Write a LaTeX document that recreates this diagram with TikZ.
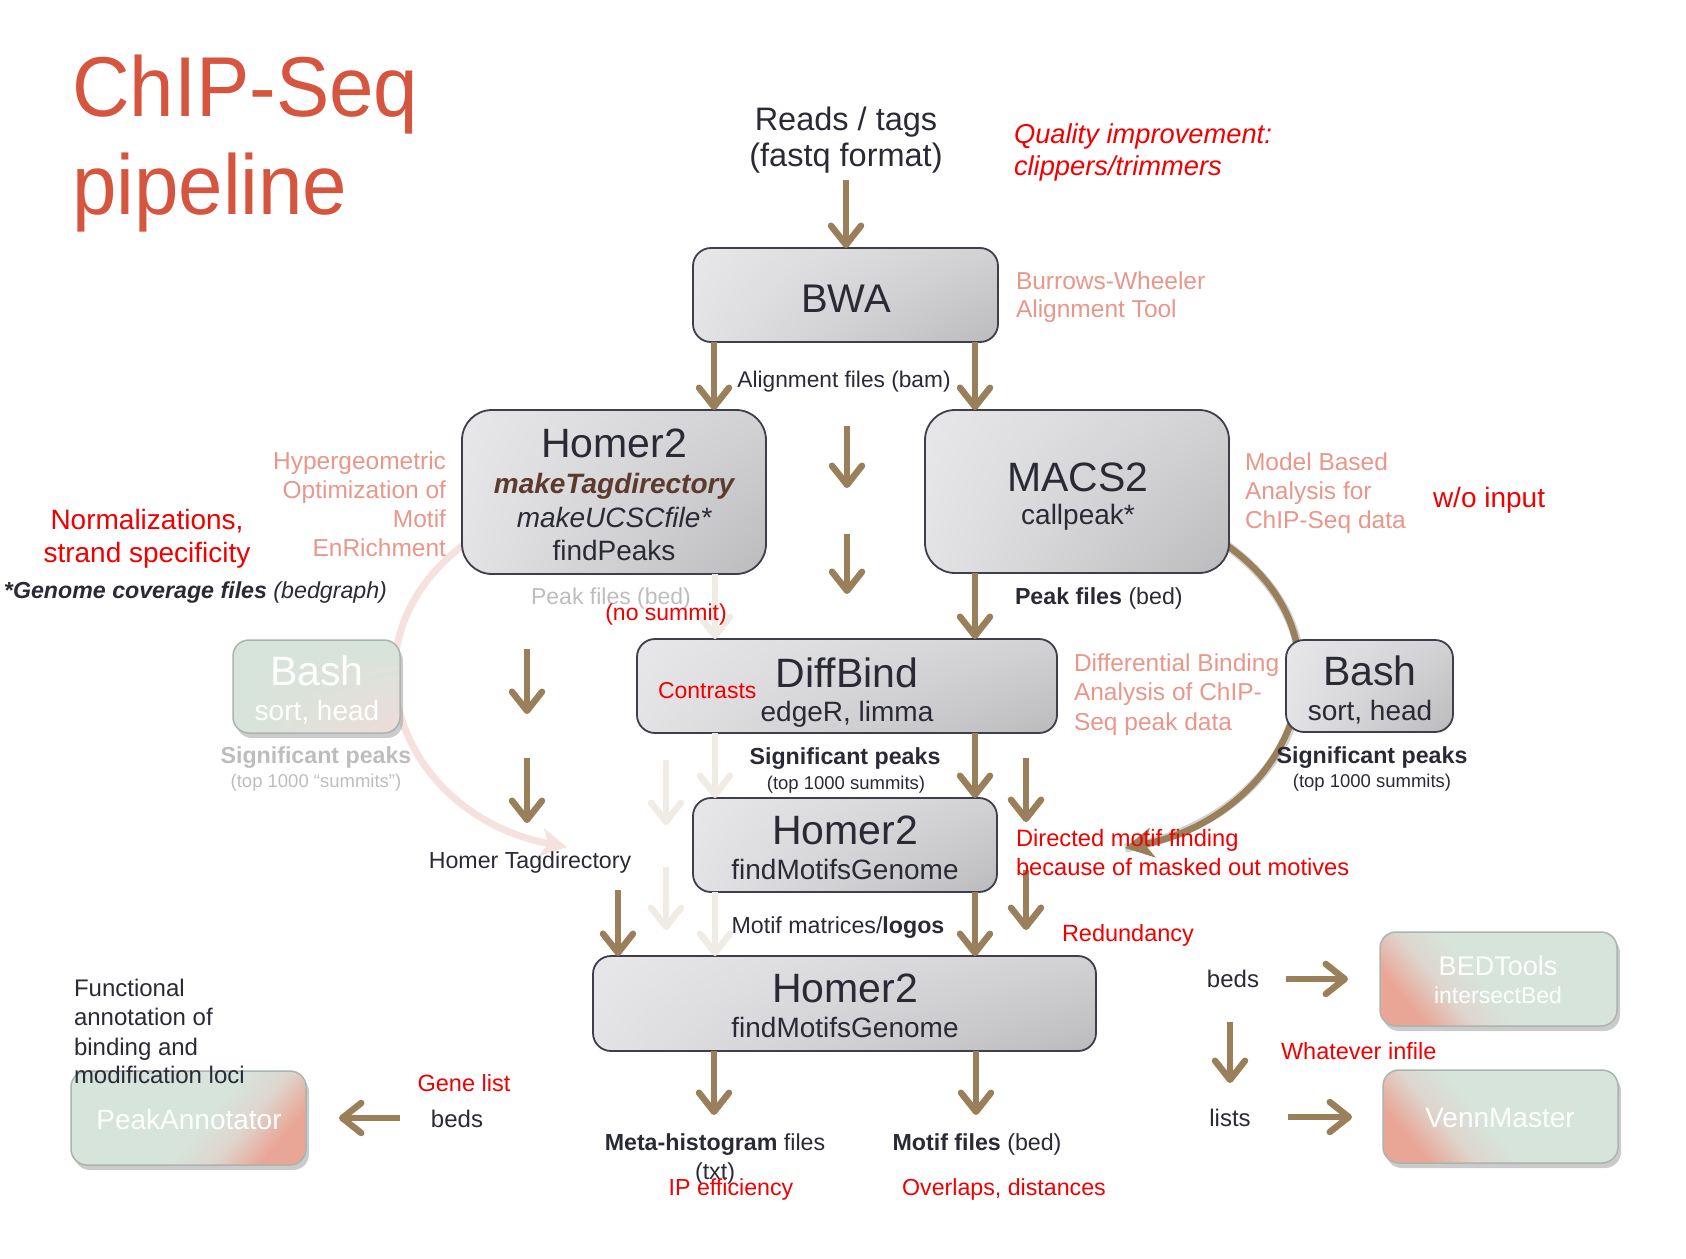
\documentclass[tikz,border=0pt]{standalone}
\usepackage{fontspec}
\setmainfont{Liberation Sans}
\newfontfamily\titlefont[FakeStretch=0.94]{Liberation Sans}
\usetikzlibrary{arrows.meta,shadows,shadings}
\definecolor{ttl}{HTML}{D5553F}
\definecolor{salm}{HTML}{E8978A}
\definecolor{txt}{HTML}{2A2A36}
\definecolor{arrc}{HTML}{9A7F5B}
\definecolor{fadearr}{HTML}{F0EBE5}
\definecolor{fadecurve}{HTML}{F5E1DE}
\definecolor{brn}{HTML}{5C3A2E}
\definecolor{lgray}{HTML}{BDBDBD}
\definecolor{boxline}{HTML}{3E3E4C}
\definecolor{gA}{HTML}{E7E7E9}
\definecolor{gAA}{HTML}{E3E3E5}
\definecolor{gB}{HTML}{D2D2D4}
\definecolor{gC}{HTML}{BBBBBD}
\definecolor{grn}{HTML}{D6E4DB}
\definecolor{pnk}{HTML}{E9A595}
\definecolor{mixc}{HTML}{DED6CE}
\definecolor{lpnk}{HTML}{EEDCD8}
\definecolor{fbord}{HTML}{A9B5AE}
\definecolor{rd}{HTML}{F00000}
\pgfdeclarehorizontalshading{pinkleft}{100bp}{color(0bp)=(pnk); color(25bp)=(pnk); color(36bp)=(mixc); color(46bp)=(grn); color(100bp)=(grn)}
\pgfdeclarehorizontalshading{pinkright}{100bp}{color(0bp)=(grn); color(54bp)=(grn); color(64bp)=(mixc); color(75bp)=(pnk); color(100bp)=(pnk)}
\newcommand{\fsz}[1]{\fontsize{#1}{#1}\selectfont}
\begin{document}
\begin{tikzpicture}[x=1pt,y=-1pt,
  graybox/.style={draw=boxline, line width=1.8pt, rounded corners=18pt, inner sep=0pt, outer sep=0pt,
     upper left=gA, upper right=gB, lower left=gAA, lower right=gC},
  fadebox/.style={draw=fbord, line width=1.5pt, rounded corners=16pt, inner sep=0pt, outer sep=0pt,
     drop shadow={shadow xshift=3pt, shadow yshift=-5pt, opacity=0.45, fill=black!45}},
  lbl/.style={inner sep=0pt, outer sep=0pt, text=txt},
  arr/.style={draw=arrc, line width=6.5pt, -{Straight Barb[length=19pt,width=30pt,round]}},
  farr/.style={arr, draw=fadearr},
]
\useasboundingbox (0,0) rectangle (1686,1258);

% ---------- curved arrows (behind boxes)
\coordinate (cl0) at (470,540);
\coordinate (cl1) at (567,847);
\draw[fadecurve, line width=7pt, -{Stealth[length=26pt,width=28pt,inset=7pt]}]
  (cl0) .. controls (330,640) and (401,816) .. (cl1);
\coordinate (cr0) at (1222,542);
\coordinate (cr1) at (1125,848);
\draw[black, opacity=0.18, line width=9pt, shift={(3,5)}]
  (cr0) .. controls (1368,640) and (1289,816) .. (cr1);
\draw[arrc, line width=6.5pt, -{Stealth[length=28pt,width=30pt,inset=8pt]}]
  (cr0) .. controls (1368,640) and (1289,816) .. (cr1);

% ---------- boxes
\node[graybox, minimum width=305pt, minimum height=94pt] (bwa) at (845.5,295) {};
\node[graybox, rounded corners=30pt, minimum width=304pt, minimum height=164pt] (homerA) at (614,492) {};
\node[graybox, rounded corners=30pt, minimum width=304pt, minimum height=163pt] (macs) at (1077,491.5) {};
\node[graybox, minimum width=420pt, minimum height=94pt] (diff) at (847,686) {};
\node[graybox, minimum width=167pt, minimum height=92pt] (bashR) at (1369.5,686) {};
\node[graybox, minimum width=304pt, minimum height=94pt] (homerB) at (845,845) {};
\node[graybox, minimum width=503pt, minimum height=95pt] (homerC) at (844.5,1003.5) {};

\node[fadebox, minimum width=167pt, minimum height=93pt,
   upper left=grn, upper right=grn, lower left=grn, lower right=lpnk] (bashL) at (316.5,686.5) {};
\node[fadebox, minimum width=235pt, minimum height=94pt,
   shading=pinkright, shading angle=-40] (peakann) at (188.5,1118) {};
\node[fadebox, minimum width=237pt, minimum height=94pt,
   shading=pinkleft, shading angle=40] (bedtools) at (1498.5,979) {};
\node[fadebox, minimum width=235pt, minimum height=93pt,
   shading=pinkleft, shading angle=40] (venn) at (1500.5,1116.5) {};

% ---------- faded straight arrows
\draw[farr] ([xshift=101pt]homerA.south) -- ([xshift=101pt]homerA.south |- diff.north);
\draw[farr] ([xshift=-132pt]diff.south) -- ([xshift=-132pt]diff.south |- homerB.north);
\draw[farr] ([xshift=-130pt]homerB.south) -- ([xshift=-130pt]homerB.south |- homerC.north);
\coordinate (f3a) at (666,760); \coordinate (f3b) at (666,825);
\coordinate (f4a) at (666,867); \coordinate (f4b) at (666,930);
\draw[farr] (f3a) -- (f3b);
\draw[farr] (f4a) -- (f4b);

% ---------- brown straight arrows
\coordinate (rt) at (846,180);
\draw[arr] (rt) -- (rt |- bwa.north);
\draw[arr] ([xshift=-131.5pt]bwa.south) -- ([xshift=-131.5pt]bwa.south |- homerA.north);
\draw[arr] ([xshift=129.5pt]bwa.south) -- ([xshift=129.5pt]bwa.south |- macs.north);
\coordinate (m1a) at (847,426); \coordinate (m1b) at (847,488);
\coordinate (m2a) at (847,534); \coordinate (m2b) at (847,594);
\draw[arr] (m1a) -- (m1b);
\draw[arr] (m2a) -- (m2b);
\draw[arr] ([xshift=-102pt]macs.south) -- ([xshift=-102pt]macs.south |- diff.north);
\draw[arr] ([xshift=128pt]diff.south) -- ([xshift=128pt]diff.south |- homerB.north);
\draw[arr] ([xshift=130pt]homerB.south) -- ([xshift=130pt]homerB.south |- homerC.north);
\coordinate (l1a) at (527,649); \coordinate (l1b) at (527,714);
\coordinate (l2a) at (527,758); \coordinate (l2b) at (527,823);
\draw[arr] (l1a) -- (l1b);
\draw[arr] (l2a) -- (l2b);
\coordinate (l3a) at (618,890);
\draw[arr] (l3a) -- (l3a |- homerC.north);
\coordinate (r1a) at (1026,758); \coordinate (r1b) at (1026,822);
\coordinate (r2a) at (1026,870); \coordinate (r2b) at (1026,930);
\draw[arr] (r1a) -- (r1b);
\draw[arr] (r2a) -- (r2b);
\coordinate (b1b) at (714,1115);
\coordinate (b2b) at (976,1115);
\draw[arr] (homerC.south -| b1b) -- (b1b);
\draw[arr] (homerC.south -| b2b) -- (b2b);
\coordinate (pa0) at (400,1118); \coordinate (pa1) at (339,1118);
\draw[arr] (pa0) -- (pa1);
\coordinate (bd0) at (1286,979); \coordinate (bd1) at (1348,979);
\draw[arr] (bd0) -- (bd1);
\coordinate (dn0) at (1230,1022); \coordinate (dn1) at (1230,1083);
\draw[arr] (dn0) -- (dn1);
\coordinate (ls0) at (1288,1117); \coordinate (ls1) at (1352,1117);
\draw[arr] (ls0) -- (ls1);

% ---------- title
\node[lbl, anchor=base west, text=ttl, font=\titlefont\fsz{85}] (title1) at (72,116) {ChIP-Seq};
\node[lbl, anchor=base west, text=ttl, font=\titlefont\fsz{85}] (title2) at (72,214) {pipeline};

% ---------- top
\node[lbl, anchor=base, font=\fsz{32.5}] (reads1) at (846,130) {Reads / tags};
\node[lbl, anchor=base, font=\fsz{32.5}] (reads2) at (846,166) {(fastq format)};
\node[lbl, anchor=base west, text=rd, font=\itshape\fsz{27.3}] (qual1) at (1014,143) {Quality improvement:};
\node[lbl, anchor=base west, text=rd, font=\itshape\fsz{27.3}] (qual2) at (1014,175) {clippers/trimmers};
\node[lbl, anchor=base, font=\fsz{40}] (bwat) at (846,312) {BWA};
\node[lbl, anchor=base west, text=salm, font=\fsz{24.5}] (bw1) at (1016,289) {Burrows-Wheeler};
\node[lbl, anchor=base west, text=salm, font=\fsz{24.5}] (bw2) at (1016,317) {Alignment Tool};
\node[lbl, anchor=base, font=\fsz{22.7}] (alig) at (844,387) {Alignment files (bam)};

% ---------- Homer2 A
\node[lbl, anchor=base, font=\fsz{41}] (hA1) at (614,457) {Homer2};
\node[lbl, anchor=base, text=brn, font=\bfseries\itshape\fsz{28}] (hA2) at (614,493) {makeTagdirectory};
\node[lbl, anchor=base, font=\itshape\fsz{28}] (hA3) at (614,527) {makeUCSCfile*};
\node[lbl, anchor=base, font=\fsz{28}] (hA4) at (614,560) {findPeaks};
\node[lbl, anchor=base east, text=salm, font=\fsz{24.5}] (hy1) at (446,469) {Hypergeometric};
\node[lbl, anchor=base east, text=salm, font=\fsz{24.5}] (hy2) at (446,498) {Optimization of};
\node[lbl, anchor=base east, text=salm, font=\fsz{24.5}] (hy3) at (446,527) {Motif};
\node[lbl, anchor=base east, text=salm, font=\fsz{24.5}] (hy4) at (446,556) {EnRichment};
\node[lbl, anchor=base, text=rd, font=\fsz{28}] (no1) at (147,529) {Normalizations,};
\node[lbl, anchor=base, text=rd, font=\fsz{28}] (no2) at (147,562) {strand specificity};
\node[lbl, anchor=base west, font=\fsz{23.2}] (gcov) at (4,598) {{\bfseries\itshape *Genome coverage files} {\itshape (bedgraph)}};

% ---------- MACS2
\node[lbl, anchor=base, font=\fsz{41}] (mc1) at (1078,491) {MACS2};
\node[lbl, anchor=base, font=\fsz{28}] (mc2) at (1078,524) {callpeak*};
\node[lbl, anchor=base west, text=salm, font=\fsz{24.5}] (mb1) at (1245,470) {Model Based};
\node[lbl, anchor=base west, text=salm, font=\fsz{24.5}] (mb2) at (1245,499) {Analysis for};
\node[lbl, anchor=base west, text=salm, font=\fsz{24.5}] (mb3) at (1245,528) {ChIP-Seq data};
\node[lbl, anchor=base west, text=rd, font=\fsz{28}] (woi) at (1433,507) {w/o input};

\node[lbl, anchor=base, text=lgray, font=\fsz{23}] (pfg) at (611,604) {Peak files (bed)};
\node[lbl, anchor=base, text=rd, font=\fsz{23}] (nos) at (666,620) {(no summit)};
\node[lbl, anchor=base west, font=\fsz{23.2}] (pfb) at (1015,604) {{\bfseries Peak files} (bed)};

% ---------- DiffBind
\node[lbl, anchor=base, font=\fsz{41}] (db1) at (847,687) {DiffBind};
\node[lbl, anchor=base, font=\fsz{28}] (db2) at (847,721) {edgeR, limma};
\node[lbl, anchor=base west, text=rd, font=\fsz{23}] (contr) at (658,698) {Contrasts};
\node[lbl, anchor=base west, text=salm, font=\fsz{24.5}] (dfb1) at (1074,671) {Differential Binding};
\node[lbl, anchor=base west, text=salm, font=\fsz{24.5}] (dfb2) at (1074,700) {Analysis of ChIP-};
\node[lbl, anchor=base west, text=salm, font=\fsz{24.5}] (dfb3) at (1074,730) {Seq peak data};

% ---------- Bash boxes
\node[lbl, anchor=base, font=\fsz{41}] (bR1) at (1370,685) {Bash};
\node[lbl, anchor=base, font=\fsz{28}] (bR2) at (1370,720) {sort, head};
\node[lbl, anchor=base, font=\bfseries\fsz{23.2}] (spR1) at (1372,763) {Significant peaks};
\node[lbl, anchor=base, font=\fsz{18.5}] (spR2) at (1372,787) {(top 1000 summits)};
\node[lbl, anchor=base, text=white, font=\fsz{41}] (bL1) at (317,685) {Bash};
\node[lbl, anchor=base, text=white, font=\fsz{28}] (bL2) at (317,720) {sort, head};
\node[lbl, anchor=base, text=lgray, font=\bfseries\fsz{23.2}] (spL1) at (316,763) {Significant peaks};
\node[lbl, anchor=base, text=lgray, font=\fsz{18.5}] (spL2) at (316,787) {(top 1000 “summits”)};
\node[lbl, anchor=base, font=\bfseries\fsz{23.2}] (spM1) at (845,764) {Significant peaks};
\node[lbl, anchor=base, font=\fsz{18.5}] (spM2) at (846,789) {(top 1000 summits)};

% ---------- Homer2 B
\node[lbl, anchor=base, font=\fsz{41}] (hB1) at (845,844) {Homer2};
\node[lbl, anchor=base, font=\fsz{28}] (hB2) at (845,879) {findMotifsGenome};
\node[lbl, anchor=base west, text=rd, font=\fsz{23.7}] (dm1) at (1016,846) {Directed motif finding};
\node[lbl, anchor=base west, text=rd, font=\fsz{23.7}] (dm2) at (1016,875) {because of masked out motives};
\node[lbl, anchor=base, font=\fsz{23.2}] (mml) at (838,933) {Motif matrices/{\bfseries logos}};
\node[lbl, anchor=base west, text=rd, font=\fsz{23.5}] (red) at (1062,941) {Redundancy};
\node[lbl, anchor=base, font=\fsz{23.2}] (htd) at (530,868) {Homer Tagdirectory};

% ---------- Homer2 C
\node[lbl, anchor=base, font=\fsz{41}] (hC1) at (845,1002) {Homer2};
\node[lbl, anchor=base, font=\fsz{28}] (hC2) at (845,1037) {findMotifsGenome};
\node[lbl, anchor=base, font=\fsz{23.2}] (meta1) at (715,1150) {{\bfseries Meta-histogram} files};
\node[lbl, anchor=base, font=\fsz{23.2}] (meta2) at (715,1179) {(txt)};
\node[lbl, anchor=base, text=rd, font=\fsz{23.2}] (ipe) at (731,1195) {IP efficiency};
\node[lbl, anchor=base, font=\fsz{23.2}] (mf) at (977,1150) {{\bfseries Motif files} (bed)};
\node[lbl, anchor=base, text=rd, font=\fsz{23.2}] (ovl) at (1004,1195) {Overlaps, distances};

% ---------- bottom left
\node[lbl, anchor=base west, font=\fsz{24}] (fa1) at (74,996) {Functional};
\node[lbl, anchor=base west, font=\fsz{24}] (fa2) at (74,1025) {annotation of};
\node[lbl, anchor=base west, font=\fsz{24}] (fa3) at (74,1055) {binding and};
\node[lbl, anchor=base west, font=\fsz{24}] (fa4) at (74,1083) {modification loci};
\node[lbl, anchor=base, text=white, font=\fsz{28}] (pat) at (189,1129) {PeakAnnotator};
\node[lbl, anchor=base, text=rd, font=\fsz{23.5}] (gl) at (464,1091) {Gene list};
\node[lbl, anchor=base, font=\fsz{24}] (bedsL) at (457,1127) {beds};

% ---------- bottom right
\node[lbl, anchor=base, font=\fsz{24}] (bedsR) at (1233,987) {beds};
\node[lbl, anchor=base, font=\fsz{24}] (lists) at (1230,1126) {lists};
\node[lbl, anchor=base west, text=rd, font=\fsz{23.5}] (wif) at (1281,1059) {Whatever infile};
\node[lbl, anchor=base, text=white, font=\fsz{27}] (bt1) at (1498,975) {BEDTools};
\node[lbl, anchor=base, text=white, font=\fsz{23}] (bt2) at (1498,1003) {intersectBed};
\node[lbl, anchor=base, text=white, font=\fsz{28}] (vm) at (1500,1127) {VennMaster};
\end{tikzpicture}
\end{document}
